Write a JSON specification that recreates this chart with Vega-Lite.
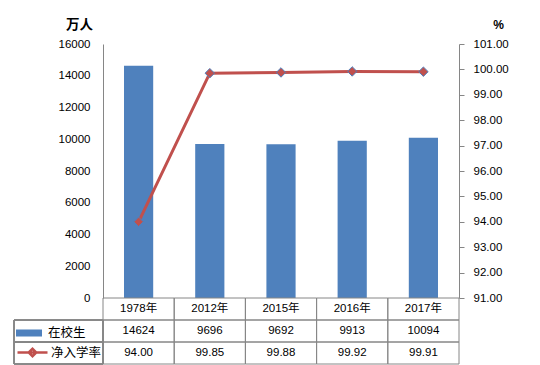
{
  "$schema": "https://vega.github.io/schema/vega-lite/v6.json",
  "padding": {"left": 13, "top": 17, "right": 0, "bottom": 0},
  "background": "white",
  "config": {
    "view": {"stroke": null},
    "font": "Liberation Sans, Noto Sans CJK SC",
    "text": {"font": "Liberation Sans, Noto Sans CJK SC"}
  },
  "data": {
    "values": [
      {"year": "1978年", "students": 14624, "rate": 94.00},
      {"year": "2012年", "students": 9696, "rate": 99.85},
      {"year": "2015年", "students": 9692, "rate": 99.88},
      {"year": "2016年", "students": 9913, "rate": 99.92},
      {"year": "2017年", "students": 10094, "rate": 99.91}
    ]
  },
  "columns": 2,
  "spacing": 0,
  "bounds": "flush",
  "concat": [
    {
      "width": 89,
      "height": 254,
      "mark": {"type": "point", "opacity": 0},
      "encoding": {}
    },
    {
      "width": 356,
      "height": 254,
      "encoding": {
        "x": {"field": "year", "type": "nominal", "sort": null, "scale": {"paddingInner": 0, "paddingOuter": 0}, "axis": null}
      },
      "layer": [
        {
          "mark": {"type": "bar", "width": {"band": 0.41}, "color": "#4F81BD"},
          "encoding": {
            "y": {
              "field": "students", "type": "quantitative",
              "scale": {"domain": [0, 16000]},
              "axis": {
                "orient": "left", "values": [0, 2000, 4000, 6000, 8000, 10000, 12000, 14000, 16000],
                "format": "d", "grid": false, "ticks": false, "tickSize": 0, "labelPadding": 13,
                "domainColor": "#868686", "labelColor": "#000000", "labelFontSize": 11.5,
                "labelFont": "Liberation Sans",
                "title": "万人", "titleAngle": 0, "titleX": -24, "titleY": -20, "titleAlign": "center",
                "titleBaseline": "middle", "titleFontSize": 13.5, "titleFontWeight": "bold",
                "titleFont": "Noto Sans CJK SC", "titleColor": "#000000"
              }
            }
          }
        },
        {
          "encoding": {
            "y": {
              "field": "rate", "type": "quantitative",
              "scale": {"domain": [91, 101]},
              "axis": {
                "orient": "right", "values": [91, 92, 93, 94, 95, 96, 97, 98, 99, 100, 101],
                "format": ".2f", "grid": false, "tickSize": 5, "labelPadding": 9,
                "domainColor": "#868686", "tickColor": "#868686", "labelColor": "#000000", "labelFontSize": 11.5,
                "labelFont": "Liberation Sans",
                "title": "%", "titleAngle": 0, "titleX": 39, "titleY": -20, "titleAlign": "center",
                "titleBaseline": "middle", "titleFontSize": 12, "titleFontWeight": "bold",
                "titleFont": "Liberation Sans", "titleColor": "#000000"
              }
            }
          },
          "layer": [
            {
              "mark": {"type": "line", "strokeWidth": 3, "color": "#C0504D"},
              "encoding": {}
            },
            {
              "mark": {"type": "point", "shape": "diamond", "filled": true, "size": 90, "fill": "#C0504D", "stroke": "#4F81BD", "strokeWidth": 1, "opacity": 1},
              "encoding": {}
            }
          ]
        }
      ],
      "resolve": {"scale": {"y": "independent"}}
    },
    {
      "width": 89,
      "height": 66,
      "layer": [
        {
          "mark": {"type": "rect", "filled": false, "stroke": "#868686", "strokeWidth": 1},
          "encoding": {
            "y": {"datum": "r1", "type": "nominal", "scale": {"domain": ["r0", "r1", "r2"], "paddingInner": 0, "paddingOuter": 0}, "axis": null}
          }
        },
        {
          "mark": {"type": "rect", "filled": false, "stroke": "#868686", "strokeWidth": 1},
          "encoding": {
            "y": {"datum": "r2", "type": "nominal"}
          }
        },
        {
          "mark": {"type": "point", "opacity": 0, "filled": true},
          "encoding": {
            "fill": {
              "datum": "在校生",
              "scale": {"range": ["#4F81BD"]},
              "legend": {
                "title": null, "orient": "none", "legendX": 2, "legendY": 276, "padding": 0,
                "symbolType": "M-1,-0.27H1V0.27H-1Z", "symbolSize": 676, "symbolStrokeWidth": 0, "symbolOpacity": 1,
                "labelFont": "Noto Sans CJK SC", "labelFontSize": 12.5, "labelColor": "#000000", "labelOffset": 6,
                "encode": {"symbols": {"update": {"fill": {"value": "#4F81BD"}, "opacity": {"value": 1}, "strokeWidth": {"value": 0}}}}
              }
            }
          }
        },
        {
          "mark": {"type": "point", "opacity": 0, "filled": false},
          "encoding": {
            "stroke": {
              "datum": "净入学率",
              "scale": {"range": ["#C0504D"]},
              "legend": {
                "title": null, "orient": "none", "legendX": 2, "legendY": 292, "padding": 0,
                "symbolType": "M-1,0H1M-0.25,0L0,-0.25L0.25,0L0,0.25Z", "symbolSize": 900, "symbolStrokeWidth": 2.5, "symbolOpacity": 1,
                "labelFont": "Noto Sans CJK SC", "labelFontSize": 12.5, "labelColor": "#000000", "labelOffset": 2,
                "encode": {"symbols": {"update": {"fill": {"value": "#C0504D"}, "stroke": {"value": "#C0504D"}, "opacity": {"value": 1}, "strokeWidth": {"value": 2.5}}}}
              }
            }
          }
        }
      ]
    },
    {
      "width": 356,
      "height": 66,
      "encoding": {
        "x": {"field": "year", "type": "nominal", "sort": null, "scale": {"paddingInner": 0, "paddingOuter": 0}, "axis": null}
      },
      "layer": [
        {
          "mark": {"type": "rect", "filled": false, "stroke": "#868686", "strokeWidth": 1},
          "encoding": {
            "y": {"datum": "r0", "type": "nominal", "scale": {"domain": ["r0", "r1", "r2"], "paddingInner": 0, "paddingOuter": 0}, "axis": null}
          }
        },
        {
          "mark": {"type": "rect", "filled": false, "stroke": "#868686", "strokeWidth": 1},
          "encoding": {"y": {"datum": "r1", "type": "nominal"}}
        },
        {
          "mark": {"type": "rect", "filled": false, "stroke": "#868686", "strokeWidth": 1},
          "encoding": {"y": {"datum": "r2", "type": "nominal"}}
        },
        {
          "mark": {"type": "text", "fontSize": 11.5, "color": "#000000"},
          "encoding": {"y": {"datum": "r0", "type": "nominal"}, "text": {"field": "year"}}
        },
        {
          "mark": {"type": "text", "fontSize": 11.5, "color": "#000000"},
          "encoding": {"y": {"datum": "r1", "type": "nominal"}, "text": {"field": "students", "format": "d"}}
        },
        {
          "mark": {"type": "text", "fontSize": 11.5, "color": "#000000"},
          "encoding": {"y": {"datum": "r2", "type": "nominal"}, "text": {"field": "rate", "format": ".2f"}}
        }
      ]
    }
  ]
}
